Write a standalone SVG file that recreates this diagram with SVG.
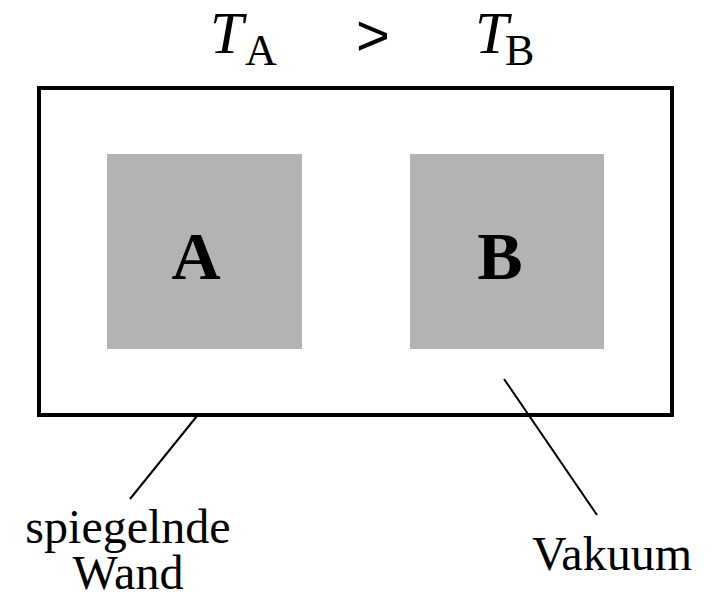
<svg xmlns="http://www.w3.org/2000/svg" width="712" height="596" viewBox="0 0 712 596">
<style>
text { font-family: "Liberation Serif", "Times New Roman", serif; fill: #000; }
.box { fill: #b3b3b3; }
.lbl { font-size: 68px; font-weight: bold; text-anchor: middle; }
.note { font-size: 48px; }
.lead { stroke: #000; stroke-width: 2; fill: none; }
</style>
<rect width="712" height="596" fill="#fff"/>
<g id="title">
  <text x="210" y="53" font-size="60" font-style="italic">T</text>
  <text x="245" y="65" font-size="44">A</text>
  <text x="373" y="55" font-size="58" text-anchor="middle" style="font-family:'Liberation Sans', Arial, sans-serif">&gt;</text>
  <text x="475" y="53" font-size="60" font-style="italic">T</text>
  <text x="505" y="65" font-size="44">B</text>
</g>
<g id="wall">
  <rect x="39" y="88" width="633" height="327" fill="none" stroke="#000" stroke-width="4"/>
</g>
<g id="nodeA">
  <rect class="box" x="107" y="154" width="195" height="195"/>
  <text class="lbl" x="196" y="279">A</text>
</g>
<g id="nodeB">
  <rect class="box" x="410" y="154" width="194" height="195"/>
  <text class="lbl" x="500" y="279">B</text>
</g>
<g id="connectors">
  <line class="lead" x1="197" y1="416" x2="130" y2="499"/>
  <line class="lead" x1="504" y1="379" x2="597" y2="515"/>
</g>
<g id="labels">
  <text class="note" x="128" y="543" text-anchor="middle">spiegelnde</text>
  <text class="note" x="128" y="589" text-anchor="middle">Wand</text>
  <text class="note" x="532" y="570">Vakuum</text>
</g>
</svg>
